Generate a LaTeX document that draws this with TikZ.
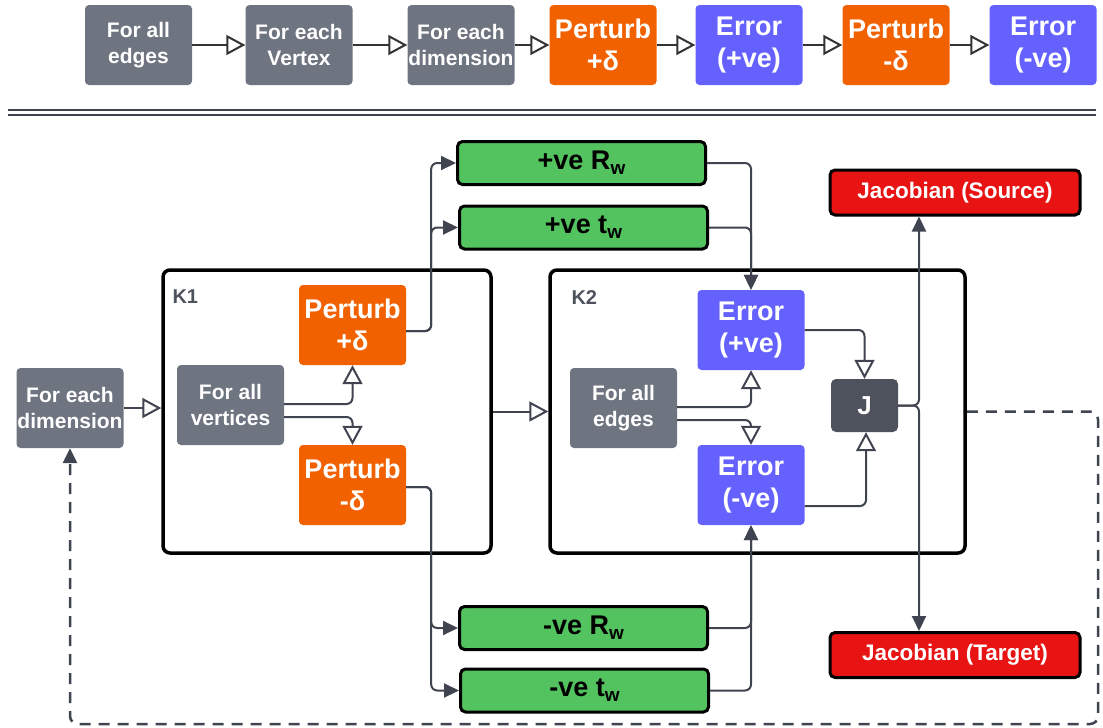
\documentclass[tikz,border=0pt]{standalone}
\usepackage{fontspec}
\setmainfont{Liberation Sans}
\usetikzlibrary{arrows.meta,positioning}
\definecolor{cgray}{HTML}{6E7480}
\definecolor{corange}{HTML}{F26100}
\definecolor{cblue}{HTML}{6461FF}
\definecolor{cgreen}{HTML}{53C35F}
\definecolor{cred}{HTML}{E81313}
\definecolor{cjg}{HTML}{4D525C}
\definecolor{cline}{HTML}{3F4450}
\newcommand{\sw}{\raisebox{-5pt}{\fontsize{19}{19}\selectfont w}}
\tikzset{
  box/.style={rounded corners=4pt, minimum width=107pt, minimum height=80pt, align=center, text=white, inner sep=0pt},
  graybox/.style={box, fill=cgray, font=\bfseries\fontsize{21}{26}\selectfont},
  orbox/.style={box, fill=corange, font=\bfseries\fontsize{27}{32}\selectfont},
  blbox/.style={box, fill=cblue, font=\bfseries\fontsize{27}{32}\selectfont},
  grbox/.style={rounded corners=5pt, draw=black, line width=3pt, fill=cgreen, minimum width=248pt, minimum height=43pt, inner sep=0pt, font=\bfseries\fontsize{27}{30}\selectfont},
  rdbox/.style={rounded corners=5pt, draw=black, line width=3pt, fill=cred, minimum width=250pt, minimum height=45pt, inner sep=0pt, text=white, font=\bfseries\fontsize{22.5}{25}\selectfont},
  cont/.style={draw=black, line width=3.5pt, rounded corners=7pt, inner sep=0pt},
  conn/.style={draw=cline, line width=2pt, rounded corners=6pt},
  openarr/.style={-{Triangle[open, length=19pt, width=20pt, fill=white]}},
  fillarr/.style={-{Triangle[length=15pt, width=14pt]}},
  dconn/.style={draw=cline, line width=2.5pt, dash pattern=on 11pt off 8pt, rounded corners=8pt},
}
\begin{document}
\begin{tikzpicture}[x=1pt,y=-1pt]
\useasboundingbox (0,0) rectangle (1103,728);
% top row
\node[graybox] (t1) at (138.5,45) {For all\\edges};
\node[graybox] (t2) at (299,45) {For each\\Vertex};
\node[graybox] (t3) at (461,45) {For each\\dimension};
\node[orbox] (t4) at (603,45) {Perturb\\+δ};
\node[blbox] (t5) at (749,45) {Error\\(+ve)};
\node[orbox] (t6) at (896,45) {Perturb\\-δ};
\node[blbox] (t7) at (1043,45) {Error\\(-ve)};
\foreach \a/\b in {t1/t2,t2/t3,t3/t4,t4/t5,t5/t6,t6/t7}
  \draw[conn, draw=black!80, openarr] (\a.east) -- (\b.west);
% separator
\draw[cline, line width=2pt] (8,110) -- (1096,110);
\draw[cline, line width=2pt] (8,114.5) -- (1096,114.5);
% containers
\node[cont, minimum width=328pt, minimum height=283pt] (K1) at (327,411.5) {};
\node[anchor=west, text=cjg, font=\bfseries\fontsize{20}{22}\selectfont] (k1l) at (169,297) {K1};
\node[cont, minimum width=415pt, minimum height=283pt] (K2) at (757.5,411.5) {};
\node[anchor=west, text=cjg, font=\bfseries\fontsize{20}{22}\selectfont] (k2l) at (568,298) {K2};
% left
\node[graybox] (fed) at (70,408) {For each\\dimension};
\node[graybox] (fav) at (230.5,405) {For all\\vertices};
\node[orbox] (pp) at (352.5,325) {Perturb\\+δ};
\node[orbox] (pm) at (352.5,485) {Perturb\\-δ};
\node[graybox] (fae) at (623.5,408) {For all\\edges};
\node[blbox] (ep) at (751,330) {Error\\(+ve)};
\node[blbox] (em) at (751,485) {Error\\(-ve)};
\node[rounded corners=5pt, fill=cjg, minimum width=67pt, minimum height=53pt, text=white, font=\bfseries\fontsize{26}{28}\selectfont] (J) at (864.5,405.5) {J};
% green
\node[grbox] (rwp) at (581.5,163) {+ve R\sw};
\node[grbox] (twp) at (583.5,227.5) {+ve t\sw};
\node[grbox] (rwm) at (583.5,628) {-ve R\sw};
\node[grbox] (twm) at (584.5,690.5) {-ve t\sw};
% red
\node[rdbox] (js) at (955,192.5) {Jacobian (Source)};
\node[rdbox] (jt) at (955,655) {Jacobian (Target)};
% connectors
\draw[conn, openarr] (fed.east) -- (fed.east -| K1.west);
\draw[conn, openarr] (K1.east) -- (K2.west);
\draw[conn, openarr] ([yshift=1pt]fav.east) -| (pp.south);
\draw[conn, openarr] ([yshift=-12pt]fav.east) -| (pm.north);
\draw[conn, openarr] ([yshift=1pt]fae.east) -| (ep.south);
\draw[conn, openarr] ([yshift=-12pt]fae.east) -| (em.north);
\draw[conn, openarr] (ep.east) -| (J.north);
\draw[conn, openarr] ([yshift=-21pt]em.east) -| ([xshift=1.5pt]J.south);
\draw[conn, fillarr] ([yshift=-6pt]pp.east) -- ++(25,0) |- (rwp.west);
\draw[conn, fillarr] ([yshift=-6pt]pp.east) -- ++(25,0) |- (twp.west);
\draw[conn, fillarr] ([yshift=-2pt]pm.east) -- ++(25,0) |- (rwm.west);
\draw[conn, fillarr] ([yshift=-2pt]pm.east) -- ++(25,0) |- (twm.west);
\draw[conn, fillarr] (rwp.east) -| (ep.north);
\draw[conn, fillarr] (twp.east) -| (ep.north);
\draw[conn, fillarr] (rwm.east) -| (em.south);
\draw[conn, fillarr] (twm.east) -| (em.south);
\coordinate (jx) at (919,405.5);
\draw[conn, fillarr] (J.east) -| (jx |- js.south);
\draw[conn, fillarr] (J.east) -| (jx |- jt.north);
\coordinate (dc) at (1098,724);
\draw[dconn, -{Triangle[length=15pt, width=14pt]}] (K2.east) -| (dc) -| (fed.south);
\end{tikzpicture}
\end{document}
